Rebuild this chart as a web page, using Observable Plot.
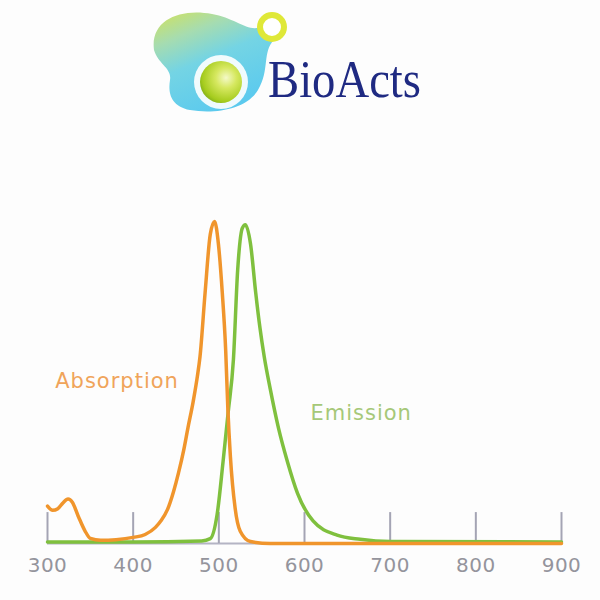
<!DOCTYPE html>
<html>
<head>
<meta charset="utf-8">
<script src="https://cdn.jsdelivr.net/npm/d3@7"></script>
<script src="https://cdn.jsdelivr.net/npm/@observablehq/plot@0.6"></script>
<style>
  html, body { margin: 0; padding: 0; background: #fdfdfd; }
  #wrap { width: 600px; height: 600px; overflow: hidden; background: #fdfdfd; }
  #logo { display: block; width: 600px; height: 120px; }
</style>
</head>
<body>
<div id="wrap">
<svg id="logo" width="600" height="120" viewBox="0 0 600 120">
  <defs>
    <linearGradient id="blobGrad" x1="0" y1="0" x2="0.5" y2="1">
      <stop offset="0" stop-color="#d2e25a"/>
      <stop offset="0.28" stop-color="#a6dcb0"/>
      <stop offset="0.55" stop-color="#74d4e4"/>
      <stop offset="1" stop-color="#5ccaee"/>
    </linearGradient>
    <radialGradient id="ballGrad" cx="0.62" cy="0.4" r="0.7">
      <stop offset="0" stop-color="#f4f9c8"/>
      <stop offset="0.35" stop-color="#d6e860"/>
      <stop offset="0.8" stop-color="#a6cc1e"/>
      <stop offset="1" stop-color="#78a818"/>
    </radialGradient>
  </defs>
  <path d="M 154 50 C 150 20, 180 8, 212 14 C 236 18, 250 34, 262 26 L 274 40 C 262 52, 270 70, 258 90 C 246 110, 214 114, 190 110 C 170 106, 168 92, 170 80 C 172 68, 158 64, 154 50 Z" fill="url(#blobGrad)"/>
  <circle cx="272" cy="27" r="12" fill="#ffffff" stroke="#dfe838" stroke-width="6"/>
  <circle cx="221" cy="82" r="27" fill="#ffffff" opacity="0.9"/>
  <circle cx="221" cy="82" r="21" fill="url(#ballGrad)"/>
  <text x="268" y="97" font-family="Liberation Serif, serif" font-size="52" fill="#1f2a82" textLength="153" lengthAdjust="spacingAndGlyphs">BioActs</text>
</svg>
<div id="chart"></div>
</div>
<script>
// Absorption spectrum (wavelength nm, relative intensity)
const absWavelength = [300, 306, 312, 318, 324, 329, 336, 344, 350, 362, 380, 400, 414, 426, 432, 440, 447, 453, 459, 464, 470, 475, 478, 484, 490, 495, 499.5, 504, 508, 510.5, 513.5, 519, 525, 537, 560, 900];
const absValue      = [11.6, 10.3, 10.8, 12.6, 13.8, 12.8, 8.4, 3.8, 1.6, 1.0, 1.2, 1.9, 2.8, 5.0, 6.9, 10.5, 16.0, 22.0, 29.0, 36.0, 44.0, 52.0, 58.0, 78.0, 96.0, 100, 93.0, 78.0, 60.0, 42.0, 27.0, 11.0, 3.8, 0.6, 0.0, 0.0];

// Emission spectrum (wavelength nm, relative intensity)
const emWavelength = [300, 400, 480, 490, 498, 505, 511, 517, 522, 527.5, 531, 537, 543, 548, 553, 560, 569.5, 580, 592, 610, 638, 665, 700, 900];
const emValue      = [0.5, 0.5, 0.8, 1.5, 9.0, 25.6, 41.0, 57.0, 85.0, 98.0, 99.0, 93.0, 78.0, 67.0, 58.0, 48.0, 36.0, 25.5, 15.5, 7.0, 2.6, 1.3, 0.6, 0.5];

const xTicks = [300, 400, 500, 600, 700, 800, 900];

const seriesLabels = ["Absorption", "Emission"];
const labelWavelength = [309, 607];
const labelValue = [50.5, 40.5];

const absData = absWavelength.map((w, i) => ({w, v: absValue[i]}));
const emData = emWavelength.map((w, i) => ({w, v: emValue[i]}));
const labelData = seriesLabels.map((t, i) => ({t, w: labelWavelength[i], v: labelValue[i]}));

const orange = "#f0952c";
const green = "#7fc03e";

const chart = Plot.plot({
  width: 600,
  height: 480,
  marginLeft: 47,
  marginRight: 39,
  marginTop: 101,
  marginBottom: 57,
  x: {domain: [300, 900], axis: null},
  y: {domain: [0, 100], axis: null},
  style: {background: "transparent"},
  marks: [
    Plot.ruleY([0], {stroke: "#b4b4c4", strokeWidth: 2}),
    Plot.ruleX(xTicks, {y1: 0, y2: 9.6, stroke: "#a4a4b4", strokeWidth: 2}),
    Plot.line(emData, {x: "w", y: "v", stroke: green, strokeWidth: 3.5, curve: "monotone-x"}),
    Plot.line(absData, {x: "w", y: "v", stroke: orange, strokeWidth: 3.5, curve: "monotone-x"}),
    Plot.text(xTicks, {x: d => d, y: 0, dy: 22, text: d => String(d), fontSize: 20, fill: "#94949c", fontFamily: "DejaVu Sans", className: "ticklab"}),
    Plot.text(labelData, {x: "w", y: "v", text: "t", textAnchor: "start", fontSize: 21, fontFamily: "DejaVu Sans", fill: (d) => d.t === "Absorption" ? "#f0a45a" : "#a6c878", className: "serieslab"})
  ]
});
chart.querySelectorAll(".serieslab text").forEach(t => t.style.letterSpacing = "1px");
chart.querySelectorAll(".ticklab text").forEach(t => { t.style.letterSpacing = "0.5px"; });
document.getElementById("chart").appendChild(chart);
</script>
</body>
</html>
